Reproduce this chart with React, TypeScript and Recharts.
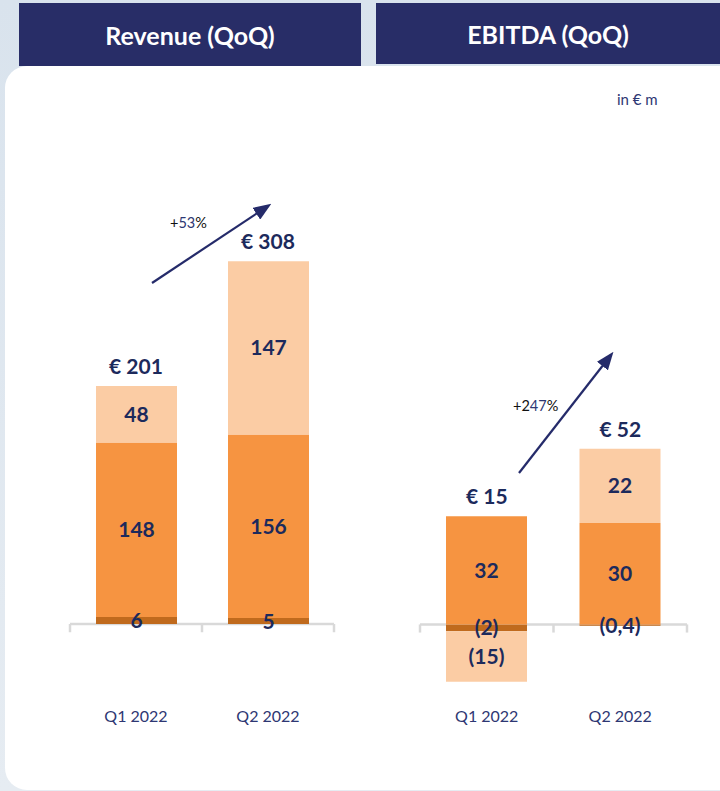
import React from "react";
import {
  ComposedChart,
  Bar,
  Line,
  XAxis,
  YAxis,
  LabelList,
  ReferenceLine,
} from "recharts";

// quarters shown on both charts
const quarters = ["Q1 2022", "Q2 2022"];

// Revenue split (in € m)
const revenueBase = [6, 5];
const revenueMid = [148, 156];
const revenueTop = [48, 147];
const revenueTotal = [201, 308];

// EBITDA split (in € m)
const ebitdaBase = [-2, -0.4];
const ebitdaMid = [32, 30];
const ebitdaTop = [-15, 22];
const ebitdaTotal = [15, 52];

const NAVY = "#1c2a5c";
const HEADER = "#282d67";
const DARK = "#c06a1d";
const MID = "#f69441";
const LIGHT = "#fbcca4";
const AXIS = "#d9d9d9";
const FONT = "Lato, 'Open Sans', sans-serif";

const buildRows = (base: number[], mid: number[], top: number[], total: number[]) =>
  quarters.map((q, i) => ({
    quarter: q,
    base: base[i],
    mid: mid[i],
    top: top[i],
    total: total[i],
    // label sits on top of the positive stack
    peak: [base[i], mid[i], top[i]].filter((v) => v > 0).reduce((a, b) => a + b, 0),
  }));

const revenueRows = buildRows(revenueBase, revenueMid, revenueTop, revenueTotal);
const ebitdaRows = buildRows(ebitdaBase, ebitdaMid, ebitdaTop, ebitdaTotal);

const fmt = (v: any): string => {
  const n = Number(v);
  const s = String(Math.abs(n)).replace(".", ",");
  return n < 0 ? `(${s})` : s;
};

const QuarterTick = (props: any) => {
  const { x, y, payload, shift } = props;
  return (
    <text x={x} y={y + shift} textAnchor="middle" fill="#2e3773" fontSize={16} fontFamily={FONT}>
      {payload.value}
    </text>
  );
};

interface StackProps {
  rows: any[];
  domain: [number, number];
  tick: number;
  labelShift: number;
  margin: { top: number; right: number; bottom: number; left: number };
  left: number;
}

const StackChart: React.FC<StackProps> = ({ rows, domain, tick, labelShift, margin, left }) => {
  const valueLabel = {
    position: "center" as const,
    formatter: fmt,
    fill: NAVY,
    fontSize: 21,
    fontWeight: 700,
    fontFamily: FONT,
  };
  return (
    <div style={{ position: "absolute", left, top: 0 }}>
      <ComposedChart width={360} height={791} data={rows} margin={margin} stackOffset="sign" barSize={81}>
        <XAxis
          dataKey="quarter"
          axisLine={false}
          tickLine={false}
          tickSize={0}
          tickMargin={0}
          height={30}
          interval={0}
          tick={<QuarterTick shift={labelShift} />}
        />
        <YAxis hide domain={domain} allowDataOverflow />
        <ReferenceLine y={0} stroke={AXIS} strokeWidth={2.5} ifOverflow="visible" zIndex={-10} />
        <ReferenceLine
          segment={[{ x: quarters[0], y: 0 }, { x: quarters[0], y: -tick }]}
          position="start"
          stroke={AXIS}
          strokeWidth={2.5}
          ifOverflow="visible"
          zIndex={-10}
        />
        <ReferenceLine
          segment={[{ x: quarters[1], y: 0 }, { x: quarters[1], y: -tick }]}
          position="start"
          stroke={AXIS}
          strokeWidth={2.5}
          ifOverflow="visible"
          zIndex={-10}
        />
        <ReferenceLine
          segment={[{ x: quarters[1], y: 0 }, { x: quarters[1], y: -tick }]}
          position="end"
          stroke={AXIS}
          strokeWidth={2.5}
          ifOverflow="visible"
          zIndex={-10}
        />
        <Bar dataKey="base" stackId="s" fill={DARK} isAnimationActive={false}>
          <LabelList dataKey="base" {...valueLabel} />
        </Bar>
        <Bar dataKey="mid" stackId="s" fill={MID} isAnimationActive={false}>
          <LabelList dataKey="mid" {...valueLabel} />
        </Bar>
        <Bar dataKey="top" stackId="s" fill={LIGHT} isAnimationActive={false}>
          <LabelList dataKey="top" {...valueLabel} />
        </Bar>
        <Line
          dataKey="peak"
          stroke="none"
          dot={false}
          activeDot={false}
          isAnimationActive={false}
        >
          <LabelList
            dataKey="total"
            position="top"
            offset={12}
            formatter={(v: any) => `€ ${v}`}
            fill={NAVY}
            fontSize={21}
            fontWeight={700}
            fontFamily={FONT}
          />
        </Line>
      </ComposedChart>
    </div>
  );
};

const Arrows = () => (
  <svg width={720} height={791} style={{ position: "absolute", left: 0, top: 0, pointerEvents: "none" }}>
    <defs>
      <marker id="head" markerWidth="18" markerHeight="14" refX="14" refY="7" orient="auto" markerUnits="userSpaceOnUse">
        <path d="M0,0 L18,7 L0,14 Z" fill="#252b6a" />
      </marker>
    </defs>
    <line x1={152} y1={283} x2={268} y2={206} stroke="#252b6a" strokeWidth={2.2} markerEnd="url(#head)" />
    <line x1={519} y1={473} x2={611} y2={355} stroke="#252b6a" strokeWidth={2.2} markerEnd="url(#head)" />
    <text x={170} y={228} fontSize={14.5} fontFamily={FONT} fill="#111">
      +<tspan fill="#2e3773">53</tspan>%
    </text>
    <text x={513} y={411} fontSize={14.5} fontFamily={FONT} fill="#111">
      +2<tspan fill="#2e3773">47</tspan>%
    </text>
  </svg>
);

const App: React.FC = () => (
  <div
    style={{
      position: "absolute",
      left: 0,
      top: 0,
      width: 720,
      height: 791,
      overflow: "hidden",
      background: "linear-gradient(180deg, #d9e3ed 0%, #e6ecf2 100%)",
      fontFamily: FONT,
    }}
  >
    <div
      style={{
        position: "absolute",
        left: 5,
        top: 66,
        width: 740,
        height: 724,
        background: "#ffffff",
        borderRadius: 22,
      }}
    />
    <div
      style={{
        position: "absolute",
        left: 19,
        top: 3,
        width: 342,
        height: 63,
        background: HEADER,
        color: "#fff",
        fontWeight: 700,
        fontSize: 25,
        display: "flex",
        alignItems: "center",
        justifyContent: "center",
      }}
    >
      Revenue (QoQ)
    </div>
    <div
      style={{
        position: "absolute",
        left: 376,
        top: 3,
        width: 344,
        height: 61,
        background: HEADER,
        color: "#fff",
        fontWeight: 700,
        fontSize: 25,
        display: "flex",
        alignItems: "center",
        justifyContent: "center",
      }}
    >
      EBITDA (QoQ)
    </div>
    <div style={{ position: "absolute", left: 617, top: 90, fontSize: 15, color: "#2e3773" }}>in € m</div>
    <StackChart
      rows={revenueRows}
      domain={[0, 360]}
      tick={7}
      labelShift={98}
      margin={{ top: 200, right: 26, bottom: 137, left: 70 }}
      left={0}
    />
    <StackChart
      rows={ebitdaRows}
      domain={[-20, 70]}
      tick={2.4}
      labelShift={30}
      margin={{ top: 388, right: 33, bottom: 69, left: 60 }}
      left={360}
    />
    <Arrows />
  </div>
);

export default App;
